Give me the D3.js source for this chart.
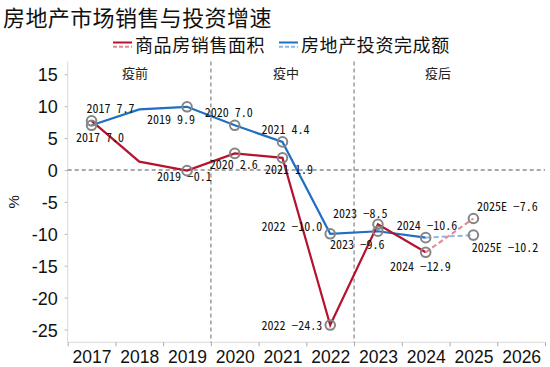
<!DOCTYPE html>
<html><head><meta charset="utf-8">
<script src="https://cdn.jsdelivr.net/npm/d3@7"></script>
<style>
html,body{margin:0;padding:0;background:#fff;}
svg{display:block;}
</style></head>
<body>
<svg id="c" width="550" height="367"></svg>
<script>
// ---- data ----
const title = "房地产市场销售与投资增速";
const seriesNames = ["商品房销售面积", "房地产投资完成额"];
const xCategories = ["2017","2018","2019","2020","2021","2022","2023","2024","2025","2026"];
const pointYears = [2017, 2018, 2019, 2020, 2021, 2022, 2023, 2024, 2025];
const pointYearLabels = ["2017","2018","2019","2020","2021","2022","2023","2024","2025E"];
const salesArea = [7.7, 1.3, -0.1, 2.6, 1.9, -24.3, -8.5, -12.9, -7.6];
const investment = [7.0, 9.5, 9.9, 7.0, 4.4, -10.0, -9.6, -10.6, -10.2];
const estimateFrom = 7; // index where dashed estimate begins (2024 -> 2025E)
const yTicks = [-25, -20, -15, -10, -5, 0, 5, 10, 15];
const periods = ["疫前", "疫中", "疫后"];
const periodBreaks = [2019.5, 2022.5];

// ---- label placement (offsets from point, not data) ----
const salesLabelPos = [[-5,-12,"start"], null, [-30,6.5,"start"], [-25,11,"start"], [-17.5,12,"start"],
  [-8,1,"end"], [-45,-11,"start"], [-35.7,14,"start"], [3.6,-12,"start"]];
const investLabelPos = [[-15.6,12,"start"], null, [-40,13,"start"], [-30,-13,"start"], [-21,-12.6,"start"],
  [-8,-7,"end"], [-48,13,"start"], [-29,-12,"start"], [-1.7,12.7,"start"]];

const svg = d3.select("#c");
const L = 67.7, R = 545, T = 61.5, B = 342.3;
const x = d3.scaleLinear().domain([2016.5, 2026.5]).range([L, R]);
const y = d3.scaleLinear().domain([-27, 17]).range([B, T]);

const red = "#b5122e", redLight = "#e58896";
const blue = "#1f6fc4", blueLight = "#8cb7e6";
const axisGray = "#d9d9d9";

// title
svg.append("text").attr("x", 3).attr("y", 25.5)
  .attr("font-family", "'Noto Sans CJK SC'").attr("font-size", 22).attr("fill", "#111")
  .attr("letter-spacing", 0.4).text(title);

// legend
const legendItems = [{name: seriesNames[0], c: red, cl: redLight, x: 113},
                     {name: seriesNames[1], c: blue, cl: blueLight, x: 279}];
legendItems.forEach(it => {
  const g = svg.append("g");
  g.append("line").attr("x1", it.x).attr("x2", it.x + 19).attr("y1", 42.5).attr("y2", 42.5)
    .attr("stroke", it.c).attr("stroke-width", 2);
  g.append("line").attr("x1", it.x).attr("x2", it.x + 19).attr("y1", 46.8).attr("y2", 46.8)
    .attr("stroke", it.cl).attr("stroke-width", 2).attr("stroke-dasharray", "4,2");
  g.append("text").attr("x", it.x + 22).attr("y", 51.5)
    .attr("font-family", "'Noto Sans CJK SC'").attr("font-size", 18).attr("fill", "#111")
    .attr("letter-spacing", 0.6).text(it.name);
});

// axes
const yAxis = d3.axisLeft(y).tickValues(yTicks).tickSize(3).tickPadding(7).tickFormat(d => String(d));
const gy = svg.append("g").attr("transform", `translate(${L},0)`).call(yAxis);
gy.select(".domain").attr("stroke", axisGray).attr("d", `M0,${T}V${B}`);
gy.selectAll(".tick line").attr("stroke", "#bbb");
gy.selectAll(".tick text").attr("font-family", "'Liberation Sans', Arial, sans-serif")
  .attr("font-size", 18).attr("fill", "#111").attr("dy", "0.36em");

const xAxisTicks = d3.axisBottom(x).tickValues(d3.range(2016.5, 2027, 1)).tickSize(4).tickFormat("");
const gxt = svg.append("g").attr("transform", `translate(0,${B})`).call(xAxisTicks);
gxt.select(".domain").attr("stroke", axisGray).attr("d", `M${L},0H${R}`);
gxt.selectAll(".tick line").attr("stroke", "#aaa");

const xAxisLabels = d3.axisBottom(x).tickValues(xCategories.map(Number)).tickSize(0).tickPadding(8.5)
  .tickFormat((d, i) => xCategories[i]);
const gxl = svg.append("g").attr("transform", `translate(0,${B})`).call(xAxisLabels);
gxl.select(".domain").remove();
gxl.selectAll(".tick text").attr("font-family", "'Liberation Sans', Arial, sans-serif")
  .attr("font-size", 17.5).attr("fill", "#111").attr("dy", "0.71em");

// y label
svg.append("text").attr("transform", `translate(19,${(T + B) / 2}) rotate(-90)`)
  .attr("text-anchor", "middle").attr("font-family", "'Liberation Sans', Arial, sans-serif")
  .attr("font-size", 15).attr("fill", "#111").text("%");

// zero line and period dividers
svg.append("line").attr("x1", L).attr("x2", R).attr("y1", y(0)).attr("y2", y(0))
  .attr("stroke", "#8c8c8c").attr("stroke-width", 1.3).attr("stroke-dasharray", "4,3");
periodBreaks.forEach(b => {
  svg.append("line").attr("x1", x(b)).attr("x2", x(b)).attr("y1", T).attr("y2", B)
    .attr("stroke", "#8c8c8c").attr("stroke-width", 1.3).attr("stroke-dasharray", "4,3");
});
const periodCenters = [135, 286, 438];
periods.forEach((p, i) => {
  svg.append("text").attr("x", periodCenters[i]).attr("y", 78).attr("text-anchor", "middle")
    .attr("font-family", "'Noto Sans CJK SC'").attr("font-size", 13).attr("fill", "#222").text(p);
});

// lines
const line = d3.line().x(d => x(d[0])).y(d => y(d[1]));
function drawSeries(vals, c, cl) {
  const pts = pointYears.map((yr, i) => [yr, vals[i]]);
  svg.append("path").datum(pts.slice(0, estimateFrom + 1)).attr("d", line)
    .attr("fill", "none").attr("stroke", c).attr("stroke-width", 2.2).attr("stroke-linejoin", "miter");
  svg.append("path").datum(pts.slice(estimateFrom)).attr("d", line)
    .attr("fill", "none").attr("stroke", cl).attr("stroke-width", 2).attr("stroke-dasharray", "5,3");
}
drawSeries(investment, blue, blueLight);
drawSeries(salesArea, red, redLight);

// markers + labels
function drawMarks(vals, pos) {
  pointYears.forEach((yr, i) => {
    if (!pos[i]) return;
    const px = x(yr), py = y(vals[i]);
    svg.append("circle").attr("cx", px).attr("cy", py).attr("r", 4.8)
      .attr("fill", "none").attr("stroke", "#858585").attr("stroke-width", 2);
  });
}
function drawLabels(vals, pos) {
  pointYears.forEach((yr, i) => {
    if (!pos[i]) return;
    const px = x(yr), py = y(vals[i]);
    svg.append("text").attr("x", px + pos[i][0]).attr("y", py + pos[i][1]).attr("dy", "0.36em")
      .attr("text-anchor", pos[i][2])
      .attr("font-family", "'Noto Sans Mono CJK SC', 'DejaVu Sans Mono', monospace")
      .attr("font-size", 12).attr("fill", "#111")
      .attr("xml:space", "preserve")
      .text(pointYearLabels[i] + " " + d3.format(".1f")(vals[i]).replace("-", "−"));
  });
}
drawMarks(investment, investLabelPos);
drawMarks(salesArea, salesLabelPos);
drawLabels(investment, investLabelPos);
drawLabels(salesArea, salesLabelPos);
</script>
</body></html>
